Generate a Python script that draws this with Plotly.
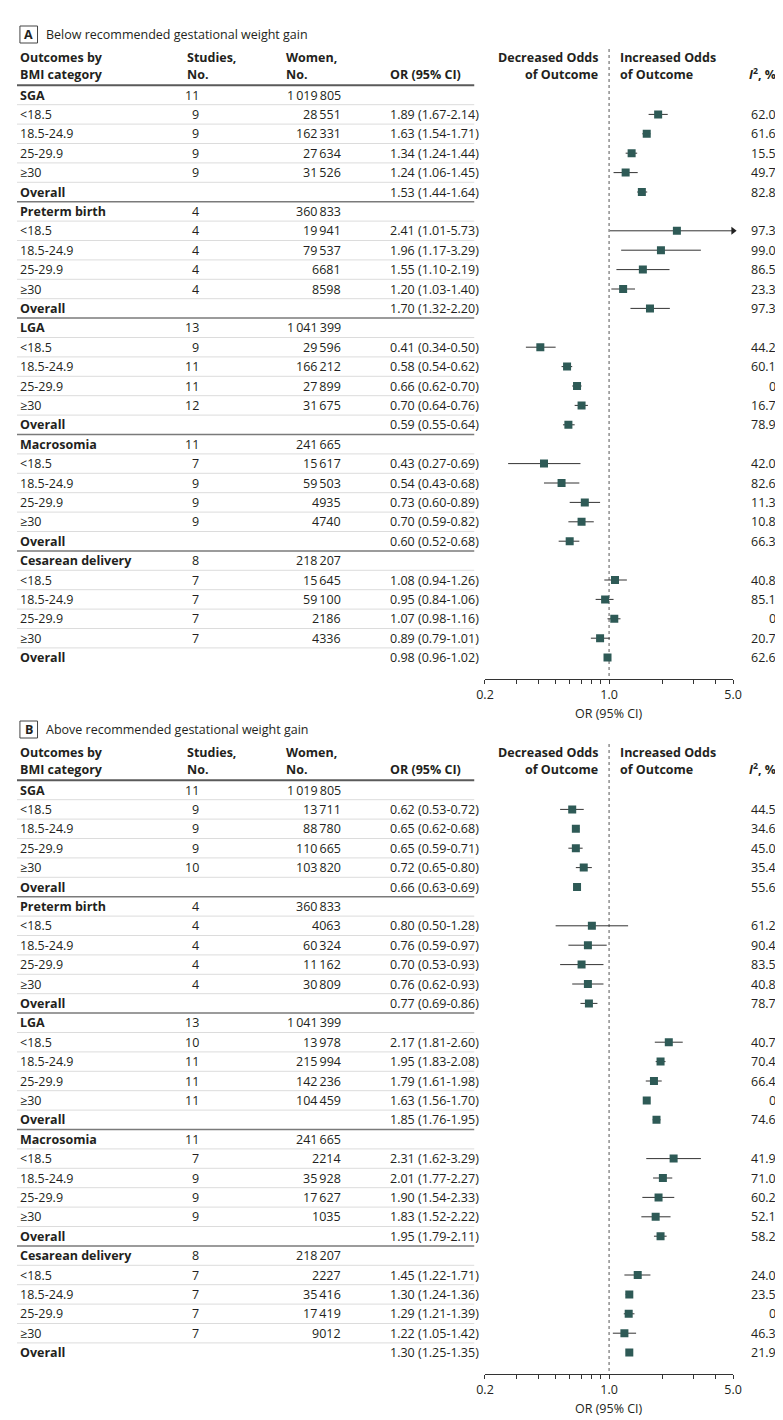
import math
import plotly.graph_objects as go

W, H = 783, 1420
FONT = "'Open Sans', 'Liberation Sans', sans-serif"
FS = 12.5
TXT = "#231f20"
MARK = "#2e5a56"

groups = ["SGA", "Preterm birth", "LGA", "Macrosomia", "Cesarean delivery"]
bmi_cats = ["<18.5", "18.5-24.9", "25-29.9", "≥30"]
group_studies = [11, 4, 13, 11, 8]
group_women = [1019805, 360833, 1041399, 241665, 218207]

# ---- Panel A: below recommended gestational weight gain ----
a_studies = [[9, 9, 9, 9], [4, 4, 4, 4], [9, 11, 11, 12], [7, 9, 9, 9], [7, 7, 7, 7]]
a_women = [[28551, 162331, 27634, 31526], [19941, 79537, 6681, 8598],
           [29596, 166212, 27899, 31675], [15617, 59503, 4935, 4740],
           [15645, 59100, 2186, 4336]]
# per group: 4 BMI categories + overall
a_or = [[1.89, 1.63, 1.34, 1.24, 1.53], [2.41, 1.96, 1.55, 1.20, 1.70],
        [0.41, 0.58, 0.66, 0.70, 0.59], [0.43, 0.54, 0.73, 0.70, 0.60],
        [1.08, 0.95, 1.07, 0.89, 0.98]]
a_lo = [[1.67, 1.54, 1.24, 1.06, 1.44], [1.01, 1.17, 1.10, 1.03, 1.32],
        [0.34, 0.54, 0.62, 0.64, 0.55], [0.27, 0.43, 0.60, 0.59, 0.52],
        [0.94, 0.84, 0.98, 0.79, 0.96]]
a_hi = [[2.14, 1.71, 1.44, 1.45, 1.64], [5.73, 3.29, 2.19, 1.40, 2.20],
        [0.50, 0.62, 0.70, 0.76, 0.64], [0.69, 0.68, 0.89, 0.82, 0.68],
        [1.26, 1.06, 1.16, 1.01, 1.02]]
a_i2 = [[62.0, 61.6, 15.5, 49.7, 82.8], [97.3, 99.0, 86.5, 23.3, 97.3],
        [44.2, 60.1, 0, 16.7, 78.9], [42.0, 82.6, 11.3, 10.8, 66.3],
        [40.8, 85.1, 0, 20.7, 62.6]]

# ---- Panel B: above recommended gestational weight gain ----
b_studies = [[9, 9, 9, 10], [4, 4, 4, 4], [10, 11, 11, 11], [7, 9, 9, 9], [7, 7, 7, 7]]
b_women = [[13711, 88780, 110665, 103820], [4063, 60324, 11162, 30809],
           [13978, 215994, 142236, 104459], [2214, 35928, 17627, 1035],
           [2227, 35416, 17419, 9012]]
b_or = [[0.62, 0.65, 0.65, 0.72, 0.66], [0.80, 0.76, 0.70, 0.76, 0.77],
        [2.17, 1.95, 1.79, 1.63, 1.85], [2.31, 2.01, 1.90, 1.83, 1.95],
        [1.45, 1.30, 1.29, 1.22, 1.30]]
b_lo = [[0.53, 0.62, 0.59, 0.65, 0.63], [0.50, 0.59, 0.53, 0.62, 0.69],
        [1.81, 1.83, 1.61, 1.56, 1.76], [1.62, 1.77, 1.54, 1.52, 1.79],
        [1.22, 1.24, 1.21, 1.05, 1.25]]
b_hi = [[0.72, 0.68, 0.71, 0.80, 0.69], [1.28, 0.97, 0.93, 0.93, 0.86],
        [2.60, 2.08, 1.98, 1.70, 1.95], [3.29, 2.27, 2.33, 2.22, 2.11],
        [1.71, 1.36, 1.39, 1.42, 1.35]]
b_i2 = [[44.5, 34.6, 45.0, 35.4, 55.6], [61.2, 90.4, 83.5, 40.8, 78.7],
        [40.7, 70.4, 66.4, 0, 74.6], [41.9, 71.0, 60.2, 52.1, 58.2],
        [24.0, 23.5, 0, 46.3, 21.9]]

panel_titles = ["Below recommended gestational weight gain",
                "Above recommended gestational weight gain"]
panel_letters = ["A", "B"]
tick_vals = [0.2, 1.0, 5.0]
tick_text = ["0.2", "1.0", "5.0"]
minor_vals = [0.3, 0.4, 0.5, 0.6, 0.7, 0.8, 0.9, 2, 3, 4]
X_MIN, X_MAX = 0.2, 5.0

# ---- layout geometry (pixels) ----
ROW0 = 87.0        # centre of first row in panel A
PITCH = 19.4
AX_Y = 671.0       # x-axis line of panel A
OFFSET = 695.0     # vertical offset of panel B
X_LEFT, X_RIGHT = 479.0, 733.0
C_LABEL = 1
C_STUD_H, C_STUD = 172, 188
C_WOM_H, C_WOM = 273, 334
C_OR = 380
C_DEC, C_INC = 597, 615
C_I2 = 779
TABLE_END = 468


def px_to_row(py):
    return (py - ROW0) / PITCH


Y_TOP = px_to_row(0)
Y_BOT = px_to_row(AX_Y)


def fmt_women(n):
    s = str(n)
    if n >= 10000:
        parts = []
        while len(s) > 3:
            parts.insert(0, s[-3:])
            s = s[:-3]
        parts.insert(0, s)
        return "\u2009".join(parts)
    return s


def fmt_i2(v):
    return "0" if v == 0 else f"{v:.1f}"


fig = go.Figure()
annotations = []
shapes = []

panels = [
    (a_studies, a_women, a_or, a_lo, a_hi, a_i2),
    (b_studies, b_women, b_or, b_lo, b_hi, b_i2),
]

for p, (studies, women, ors, los, his, i2s) in enumerate(panels):
    xa = "x" if p == 0 else "x2"
    ya = "y" if p == 0 else "y2"
    top_px = p * OFFSET
    bot_px = AX_Y + p * OFFSET

    def ann(text, xpx, row, anchor="left", bold=False, size=FS, **kw):
        t = f"<b>{text}</b>" if bold else text
        annotations.append(dict(text=t, x=xpx / W, xref="paper", y=row, yref=ya,
                                xanchor=anchor, yanchor="middle", showarrow=False,
                                font=dict(family=FONT, size=size, color=TXT), **kw))

    # panel title with boxed letter
    r_title = px_to_row(26)
    shapes.append(dict(type="rect", xref="paper", yref=ya, x0=3 / W, x1=21 / W,
                       y0=px_to_row(18), y1=px_to_row(35),
                       line=dict(color="#444", width=1)))
    ann(panel_letters[p], 12, r_title, anchor="center", bold=True)
    ann(panel_titles[p], 28, r_title)

    # column headers
    r1, r2 = px_to_row(49), px_to_row(66)
    ann("Outcomes by", C_LABEL, r1, bold=True)
    ann("BMI category", C_LABEL, r2, bold=True)
    ann("Studies,", C_STUD_H, r1, bold=True)
    ann("No.", C_STUD_H, r2, bold=True)
    ann("Women,", C_WOM_H, r1, bold=True)
    ann("No.", C_WOM_H, r2, bold=True)
    ann("OR (95% CI)", C_OR, r2, bold=True)
    ann("Decreased Odds", C_DEC, r1, anchor="right", bold=True)
    ann("of Outcome", C_DEC, r2, anchor="right", bold=True)
    ann("Increased Odds", C_INC, r1, bold=True)
    ann("of Outcome", C_INC, r2, bold=True)
    ann("<i>I</i><sup>2</sup>, %", C_I2, r2, anchor="right", bold=True)

    # header rule
    shapes.append(dict(type="line", xref="paper", yref=ya, x0=0, x1=TABLE_END / W,
                       y0=-0.5, y1=-0.5, line=dict(color="#5a5a5a", width=2)))

    ci_x, ci_y, mk_x, mk_y, arr_x, arr_y = [], [], [], [], [], []
    row = 0
    for g, gname in enumerate(groups):
        # group row
        ann(gname, C_LABEL, row, bold=True)
        ann(str(group_studies[g]), C_STUD, row, anchor="right")
        ann(fmt_women(group_women[g]), C_WOM, row, anchor="right")
        for k in range(5):
            r = row + 1 + k
            if k < 4:
                ann(bmi_cats[k], C_LABEL, r)
                ann(str(studies[g][k]), C_STUD, r, anchor="right")
                ann(fmt_women(women[g][k]), C_WOM, r, anchor="right")
            else:
                ann("Overall", C_LABEL, r, bold=True)
            ann(f"{ors[g][k]:.2f} ({los[g][k]:.2f}-{his[g][k]:.2f})", C_OR, r)
            ann(fmt_i2(i2s[g][k]), C_I2, r, anchor="right")
            ci_x += [los[g][k], his[g][k], None]
            ci_y += [r, r, None]
            mk_x.append(ors[g][k])
            mk_y.append(r)
            if his[g][k] > X_MAX:
                arr_x.append(X_MAX)
                arr_y.append(r)
        # separators
        for k in range(6):
            b = row + k + 0.5
            if g == len(groups) - 1 and k == 5:
                continue
            if k == 5:
                shapes.append(dict(type="line", xref="paper", yref=ya, x0=0,
                                   x1=TABLE_END / W, y0=b, y1=b,
                                   line=dict(color="#7a7a7a", width=1.5)))
            else:
                shapes.append(dict(type="line", xref="paper", yref=ya, x0=0,
                                   x1=TABLE_END / W, y0=b, y1=b,
                                   line=dict(color="#dcdcdc", width=1)))
        row += 6

    # null line
    fig.add_trace(go.Scatter(x=[1, 1], y=[px_to_row(41), Y_BOT], xaxis=xa, yaxis=ya,
                             mode="lines", line=dict(color="#555", width=1, dash="dot"),
                             hoverinfo="skip", showlegend=False))
    fig.add_trace(go.Scatter(x=ci_x, y=ci_y, xaxis=xa, yaxis=ya, mode="lines",
                             line=dict(color="#333", width=1), hoverinfo="skip",
                             showlegend=False))
    fig.add_trace(go.Scatter(x=mk_x, y=mk_y, xaxis=xa, yaxis=ya, mode="markers",
                             marker=dict(symbol="square", size=8, color=MARK,
                                         line=dict(width=0)),
                             showlegend=False))
    if arr_x:
        fig.add_trace(go.Scatter(x=arr_x, y=arr_y, xaxis=xa, yaxis=ya, mode="markers",
                                 marker=dict(symbol="triangle-right", size=7,
                                             color="#222", line=dict(width=0)),
                                 cliponaxis=False, hoverinfo="skip",
                                 showlegend=False))

    # axis title
    annotations.append(dict(text="OR (95% CI)", x=(X_LEFT + X_RIGHT) / 2 / W,
                            xref="paper", y=1 - (705 + p * OFFSET) / H, yref="paper",
                            xanchor="center", yanchor="middle", showarrow=False,
                            font=dict(family=FONT, size=FS, color=TXT)))

    xax = dict(type="log", range=[math.log10(X_MIN), math.log10(X_MAX)],
               domain=[X_LEFT / W, X_RIGHT / W], anchor=ya,
               showline=True, linecolor="#333", linewidth=1,
               ticks="outside", ticklen=4, tickcolor="#333", tickwidth=1,
               tickvals=tick_vals, ticktext=tick_text,
               minor=dict(tickvals=minor_vals, ticks="outside", ticklen=4,
                          tickcolor="#333", tickwidth=1, showgrid=False),
               showgrid=False, zeroline=False, fixedrange=True,
               tickfont=dict(family=FONT, size=FS, color=TXT))
    yax = dict(domain=[1 - bot_px / H, 1 - top_px / H], range=[Y_BOT, Y_TOP],
               visible=False, fixedrange=True, anchor=xa)
    if p == 0:
        fig.update_layout(xaxis=xax, yaxis=yax)
    else:
        fig.update_layout(xaxis2=xax, yaxis2=yax)

fig.update_layout(width=W, height=H, margin=dict(l=0, r=0, t=0, b=0),
                  paper_bgcolor="white", plot_bgcolor="rgba(0,0,0,0)",
                  annotations=annotations, shapes=shapes, showlegend=False,
                  font=dict(family=FONT, size=FS, color=TXT))

fig.write_html("out.html")
